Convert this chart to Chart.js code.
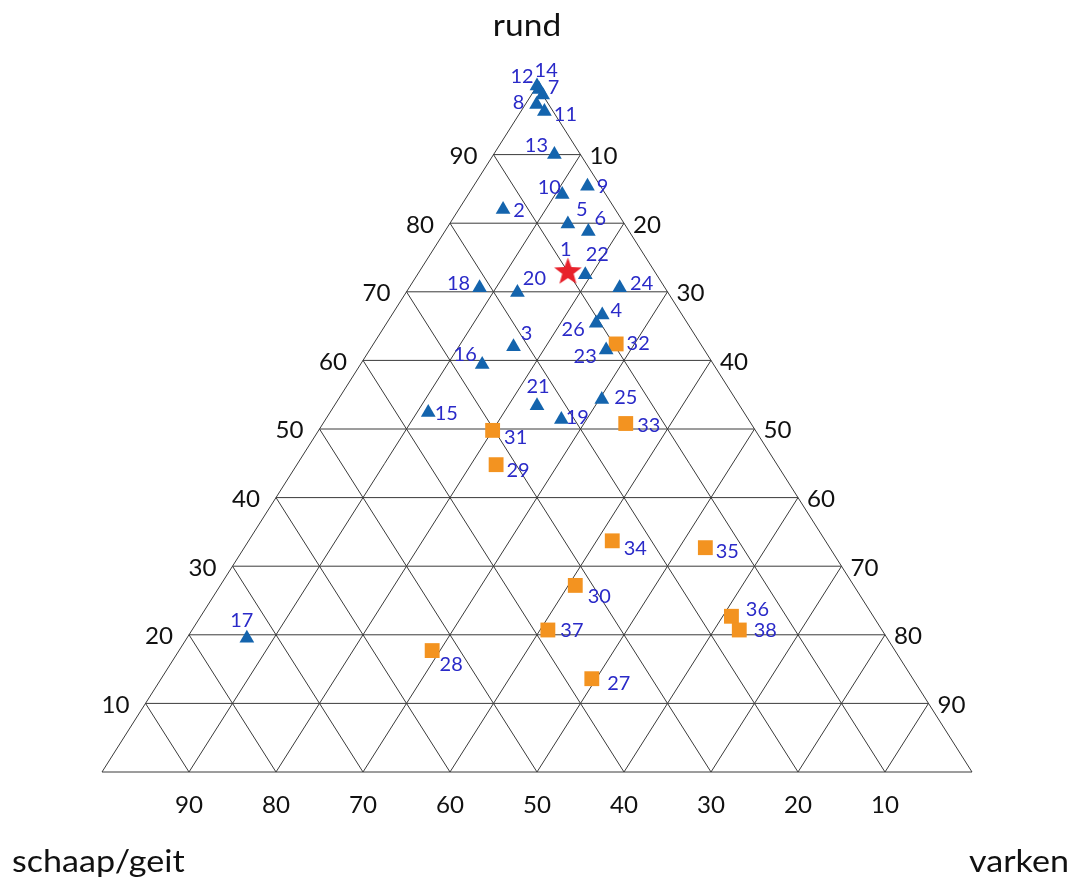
<!DOCTYPE html>
<html>
<head>
<meta charset="utf-8">
<title>rund / schaap-geit / varken</title>
<script src="https://cdn.jsdelivr.net/npm/chart.js@4.4.1/dist/chart.umd.min.js"></script>
<style>
  html, body { margin: 0; padding: 0; background: #ffffff; }
  #wrap { width: 1074px; height: 879px; }
</style>
</head>
<body>
<div id="wrap"><canvas id="chart" width="1074" height="879"></canvas></div>
<script>
// Percentages per site: rund (cattle), varken (pig), schaap/geit (sheep/goat)
const triangleSites   = [2, 3, 4, 5, 6, 7, 8, 9, 10, 11, 12, 13, 14, 15, 16, 17, 18, 19, 20, 21, 22, 23, 24, 25, 26];
const triangleRund    = [82.0, 62.0, 66.6, 79.9, 78.8, 98.7, 97.3, 85.4, 84.2, 96.3, 100, 90.0, 99.5, 52.4, 59.4, 19.5, 70.6, 51.4, 69.9, 53.4, 72.5, 61.5, 70.6, 54.3, 65.4];
const triangleVarken  = [5.1, 16.3, 24.2, 13.6, 16.5, 1.3, 1.3, 13.1, 10.8, 2.7, 0, 7.0, 0.5, 11.3, 14.0, 6.9, 8.1, 27.1, 12.8, 23.3, 19.3, 27.2, 24.2, 30.3, 24.1];
const triangleSchaap  = [12.9, 21.7, 9.2, 6.5, 4.7, 0.0, 1.4, 1.5, 5.0, 1.0, 0, 3.0, 0.0, 36.3, 26.6, 73.6, 21.3, 21.5, 17.3, 23.3, 8.2, 11.3, 5.2, 15.4, 10.5];

const squareSites     = [27, 28, 29, 30, 31, 32, 33, 34, 35, 36, 37, 38];
const squareRund      = [13.6, 17.7, 44.8, 27.2, 49.8, 62.4, 50.8, 33.7, 32.7, 22.7, 20.7, 20.7];
const squareVarken    = [49.5, 29.1, 22.9, 40.8, 20.0, 27.9, 34.8, 41.8, 53.0, 61.0, 40.9, 62.9];
const squareSchaap    = [36.9, 53.2, 32.3, 32.0, 30.2, 9.7, 14.4, 24.5, 14.3, 16.3, 38.4, 16.4];

const starSites       = [1];
const starRund        = [73.1];
const starVarken      = [17.0];
const starSchaap      = [9.9];

const gridTicks       = [10, 20, 30, 40, 50, 60, 70, 80, 90];
const axisTitles      = { top: 'rund', left: 'schaap/geit', right: 'varken' };

// Label placement around each marker (pixels: dx, dy of the label centre)
const labelOffsets = {
  1: [-2, -21], 2: [16, 1], 3: [13, -13], 4: [14, -4], 5: [14, -14], 6: [12, -13],
  7: [11, -7], 8: [-18, -2], 9: [15, 1], 10: [-13, -7], 11: [21, 3], 12: [-15, -9],
  13: [-18, -9], 14: [7, -19], 15: [18, 1], 16: [-17, -10], 17: [-5, -17], 18: [-21, -4],
  19: [16, -2], 20: [17, -14], 21: [1, -19], 22: [12, -20], 23: [-21, 7], 24: [22, -4],
  25: [24, -2], 26: [-23, 7], 27: [27, 5], 28: [19, 14], 29: [22, 6], 30: [24, 11],
  31: [23, 8], 32: [22, 0], 33: [23, 2], 34: [23, 8], 35: [22, 4], 36: [26, -6],
  37: [24, 1], 38: [26, 1]
};

// Ternary -> cartesian: x = varken + rund/2, y = rund (all in percent)
function project(r, v, s) {
  const t = r + v + s;
  const rr = r / t * 100, vv = v / t * 100;
  return { x: vv + rr / 2, y: rr };
}
function toPoints(sites, R, V, S) {
  return sites.map((id, i) => Object.assign(project(R[i], V[i], S[i]), { id }));
}

// Triangle grid: outline plus lines of constant rund, varken and schaap/geit
const gridColor = '#3a3a3a';
const gridDatasets = [];
function segment(a, b, width) {
  gridDatasets.push({
    type: 'line', data: [a, b], showLine: true, pointRadius: 0, pointHoverRadius: 0,
    borderColor: gridColor, borderWidth: width, fill: false, order: 10, clip: false,
    tension: 0
  });
}
segment(project(0, 0, 100), project(0, 100, 0), 1);
segment(project(0, 100, 0), project(100, 0, 0), 1);
segment(project(100, 0, 0), project(0, 0, 100), 1);
gridTicks.forEach(k => {
  segment(project(k, 0, 100 - k), project(k, 100 - k, 0), 1);   // rund = k
  segment(project(0, k, 100 - k), project(100 - k, k, 0), 1);   // varken = k
  segment(project(0, 100 - k, k), project(100 - k, 0, k), 1);   // schaap/geit = k
});

// Red five-pointed star marker
function starImage(outer, inner, color) {
  const c = document.createElement('canvas');
  const size = Math.ceil(outer * 2 + 2);
  c.width = size; c.height = size;
  const g = c.getContext('2d');
  const cx = size / 2, cy = size / 2 + outer * 0.1;
  g.beginPath();
  for (let i = 0; i < 10; i++) {
    const r = i % 2 === 0 ? outer : inner;
    const a = -Math.PI / 2 + i * Math.PI / 5;
    const px = cx + Math.cos(a) * r, py = cy + Math.sin(a) * r;
    if (i === 0) g.moveTo(px, py); else g.lineTo(px, py);
  }
  g.closePath();
  g.fillStyle = color;
  g.fill();
  return c;
}

const FONT = 'Lato, "Open Sans", "Liberation Sans", sans-serif';

// Text drawn slightly widened horizontally
function fillWide(ctx, text, x, y, sx) {
  ctx.save();
  ctx.translate(x, y);
  ctx.scale(sx, 1);
  ctx.fillText(text, 0, 0);
  ctx.restore();
}

const ternaryText = {
  id: 'ternaryText',
  afterDatasetsDraw(chart) {
    const ctx = chart.ctx;
    const xs = chart.scales.x, ys = chart.scales.y;
    const px = p => ({ x: xs.getPixelForValue(p.x), y: ys.getPixelForValue(p.y) });
    ctx.save();
    ctx.fillStyle = '#111111';
    ctx.textAlign = 'center';
    ctx.textBaseline = 'middle';
    ctx.font = '23px ' + FONT;
    gridTicks.forEach(k => {
      // rund, on the left edge
      const l = px(project(k, 0, 100 - k));
      fillWide(ctx, String(k), l.x - 30, l.y + 2, 1.05);
      // varken, on the right edge
      const r = px(project(100 - k, k, 0));
      fillWide(ctx, String(k), r.x + 23, r.y + 2, 1.05);
      // schaap/geit, along the base
      const b = px(project(0, 100 - k, k));
      fillWide(ctx, String(k), b.x, b.y + 34, 1.05);
    });
    ctx.font = '31px ' + FONT;
    ctx.textBaseline = 'alphabetic';
    ctx.textAlign = 'center';
    fillWide(ctx, axisTitles.top, 527, 36, 1.08);
    ctx.textAlign = 'left';
    fillWide(ctx, axisTitles.left, 12, 872, 1.1);
    ctx.textAlign = 'right';
    fillWide(ctx, axisTitles.right, 1069, 872, 1.1);

    // site numbers next to the markers
    ctx.font = '19px ' + FONT;
    ctx.fillStyle = '#2a2ac8';
    ctx.textAlign = 'center';
    ctx.textBaseline = 'middle';
    chart.data.datasets.forEach((ds, di) => {
      if (!ds.siteLabels) return;
      const meta = chart.getDatasetMeta(di);
      meta.data.forEach((el, i) => {
        const id = ds.data[i].id;
        const off = labelOffsets[id] || [16, 0];
        fillWide(ctx, String(id), el.x + off[0], el.y + off[1], 1.05);
      });
    });
    ctx.restore();
  }
};

const ctx = document.getElementById('chart').getContext('2d');
new Chart(ctx, {
  type: 'scatter',
  data: {
    datasets: [
      {
        label: 'driehoek', siteLabels: true,
        data: toPoints(triangleSites, triangleRund, triangleVarken, triangleSchaap),
        pointStyle: 'triangle', pointRadius: 8.5, pointHoverRadius: 8.5,
        backgroundColor: '#1464ad', borderColor: '#1464ad', borderWidth: 0,
        order: 1, clip: false
      },
      {
        label: 'vierkant', siteLabels: true,
        data: toPoints(squareSites, squareRund, squareVarken, squareSchaap),
        pointStyle: 'rect', pointRadius: 10.5, pointHoverRadius: 10.5,
        backgroundColor: '#f39320', borderColor: '#f39320', borderWidth: 0,
        order: 2, clip: false
      },
      {
        label: 'ster', siteLabels: true,
        data: toPoints(starSites, starRund, starVarken, starSchaap),
        pointStyle: starImage(14.5, 6, '#e8212b'), pointRadius: 14,
        backgroundColor: '#e8212b', borderWidth: 0,
        order: 3, clip: false
      },
      ...gridDatasets
    ]
  },
  options: {
    responsive: false,
    animation: false,
    events: [],
    layout: { padding: { left: 102, right: 102, top: 86, bottom: 107 } },
    scales: {
      x: { type: 'linear', min: 0, max: 100, display: false },
      y: { type: 'linear', min: 0, max: 100, display: false }
    },
    plugins: {
      legend: { display: false },
      tooltip: { enabled: false }
    }
  },
  plugins: [ternaryText]
});
</script>
</body>
</html>
